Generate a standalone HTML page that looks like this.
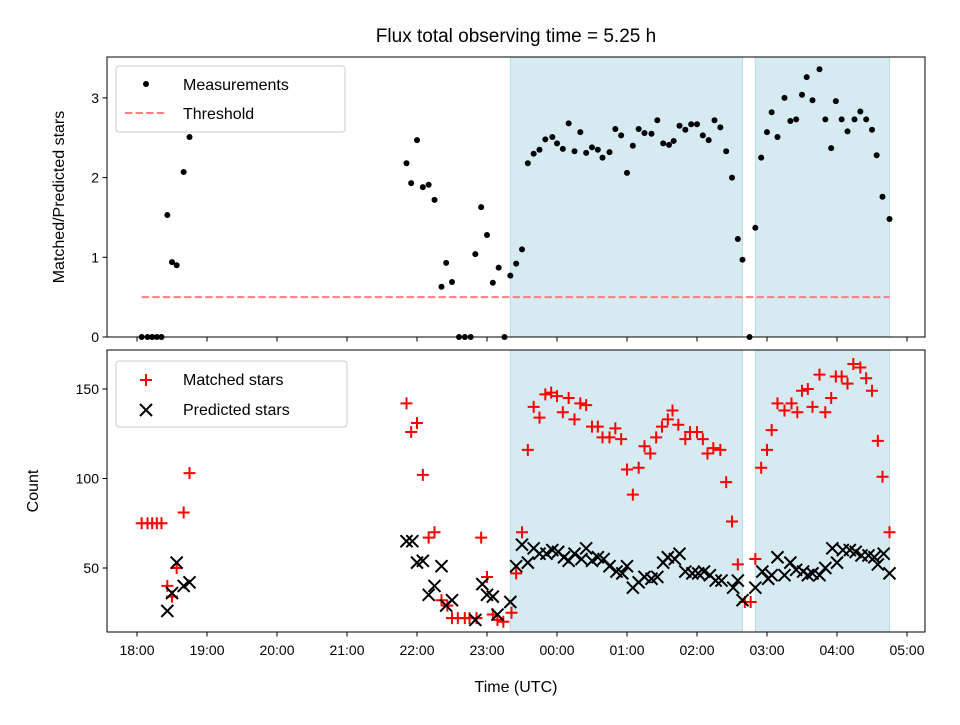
<!DOCTYPE html>
<html><head><meta charset="utf-8"><style>
body{margin:0;background:#fff}
svg text{font-family:"Liberation Sans","DejaVu Sans",sans-serif;fill:#000}
</style></head><body>
<svg id="c" width="960" height="720" viewBox="0 0 960 720" xmlns="http://www.w3.org/2000/svg"></svg>
<script>
// minutes since 18:00 UTC
const measTimes=[4,9,13,17,21,26,30,34,40,45,231,235,240,245,250,255,261,265,270,276,281,286,290,295,300,305,310,315,320,325,330,335,340,345,350,356,360,365,370,375,380,385,390,395,399,405,410,415,420,425,430,435,441,446,451,456,460,465,470,475,480,485,490,495,500,505,510,515,519,525,530,535,540,544,549,555,560,565,570,574,579,585,590,595,599,604,609,615,620,625,630,634,639,645];
const measValues=[0,0,0,0,0,1.53,0.94,0.90,2.07,2.51,2.18,1.93,2.47,1.88,1.91,1.72,0.63,0.93,0.69,0,0,0,1.04,1.63,1.28,0.68,0.87,0,0.77,0.92,1.10,2.18,2.30,2.35,2.48,2.51,2.43,2.36,2.68,2.33,2.57,2.31,2.38,2.35,2.25,2.32,2.61,2.53,2.06,2.40,2.61,2.56,2.55,2.72,2.43,2.41,2.46,2.65,2.60,2.67,2.67,2.53,2.47,2.72,2.63,2.33,2.00,1.23,0.97,0,1.37,2.25,2.57,2.82,2.51,3.00,2.71,2.73,3.04,3.26,2.97,3.36,2.73,2.37,2.96,2.73,2.58,2.73,2.83,2.73,2.60,2.28,1.76,1.48];
const matchedTimes=[4,9,13,17,21,26,30,34,40,45,231,235,240,245,250,255,261,266,270,275,281,285,291,295,300,305,309,314,321,325,330,335,340,345,350,355,360,365,370,375,380,385,390,395,399,405,410,415,420,425,430,435,440,445,450,455,459,464,470,474,480,485,489,494,500,505,510,515,521,526,530,535,540,544,549,555,561,566,570,575,579,585,590,595,599,604,609,614,620,625,630,635,639,645];
const matchedValues=[75,75,75,75,75,40,34,50,81,103,142,126,131,102,67,70,32,29,22,22,22,22,22,67,45,24,21,20,25,47,70,116,140,134,147,148,146,137,145,133,142,141,129,129,123,123,128,122,105,91,106,118,114,123,129,133,138,130,122,126,126,122,114,117,116,98,76,52,31,31,55,106,116,127,142,138,142,137,149,150,140,158,137,145,157,157,153,164,162,156,149,121,101,70];
const predictedTimes=[26,30,34,40,45,231,236,240,245,250,255,261,265,270,290,296,300,305,309,320,325,330,335,340,345,351,356,361,366,370,375,381,385,390,395,400,405,411,416,420,425,430,435,441,446,451,455,461,465,470,476,481,486,491,496,501,511,515,519,530,536,541,544,549,555,560,565,571,575,579,585,590,596,600,605,611,616,621,627,632,635,640,645];
const predictedValues=[26,36,53,40,42,65,65,53,54,35,40,51,29,32,21,41,35,34,24,31,51,63,53,61,58,58,60,59,56,54,58,55,61,54,56,55,51,48,47,51,39,42,45,44,45,53,56,55,58,48,47,47,48,46,43,43,39,43,32,39,48,44,46,56,46,53,49,48,46,47,46,50,61,53,60,60,59,57,57,56,52,58,47];
const obsWindows=[[320,519],[530,645]];
const threshold=0.5, thrStart=4, thrEnd=645;
const xTickLabels=["18:00","19:00","20:00","21:00","22:00","23:00","00:00","01:00","02:00","03:00","04:00","05:00"];
const topYTicks=[0,1,2,3];
const botYTicks=[50,100,150];

const NS="http://www.w3.org/2000/svg";
const svg=document.getElementById('c');
function el(tag,attrs,parent){const e=document.createElementNS(NS,tag);for(const k in attrs)e.setAttribute(k,attrs[k]);(parent||svg).appendChild(e);return e;}
const L=107,R=925;
const X=m=>137+m*70/60;
const T={top:57,bot:337,y:v=>337-v*79.7};
const B={top:350,bot:632,y:v=>568-(v-50)*1.79};

function axes(P,name,yTicks,labels){
  const g=el('g',{});
  
  
  obsWindows.forEach(w=>{
    const r=el('rect',{x:X(w[0]),y:P.top,width:X(w[1])-X(w[0]),height:P.bot-P.top,fill:'#d5eaf1',stroke:'#b9dce8','stroke-width':1},g);
    
    
  });
  return g;
}
function frame(P,g,yTicks,labels){
  el('rect',{x:L,y:P.top,width:R-L,height:P.bot-P.top,fill:'none',stroke:'#000','stroke-width':1},g);
  xTickLabels.forEach((t,i)=>{
    const x=X(i*60);
    el('line',{x1:x,x2:x,y1:P.bot,y2:P.bot+4.5,stroke:'#000'},g);
    if(labels){const tx=el('text',{x:x,y:P.bot+23,'text-anchor':'middle','font-size':14},g);tx.textContent=t;
      }
  });
  yTicks.forEach(v=>{
    const y=P.y(v);
    el('line',{x1:L-4.5,x2:L,y1:y,y2:y,stroke:'#000'},g);
    const tx=el('text',{x:L-8,y:y+5,'text-anchor':'end','font-size':14},g);tx.textContent=v;
    
  });
}
// top panel
const gt=axes(T,'top-panel');
const thr=el('line',{x1:X(thrStart),x2:X(thrEnd),y1:T.y(threshold),y2:T.y(threshold),stroke:'#ff7f7f','stroke-width':2,'stroke-dasharray':'7.4,3.2'},gt);

measTimes.forEach((t,i)=>{
  const c=el('circle',{cx:X(t),cy:T.y(measValues[i]),r:3,fill:'#000'},gt);
  
});
frame(T,gt,topYTicks,false);
// bottom panel
const gb=axes(B,'bottom-panel');
function plus(x,y,g,s,c){const p=el('path',{d:`M${x-s} ${y}H${x+s}M${x} ${y-s}V${y+s}`,stroke:c,'stroke-width':2,fill:'none'},g);return p;}
function cross(x,y,g,s,c){return el('path',{d:`M${x-s} ${y-s}L${x+s} ${y+s}M${x-s} ${y+s}L${x+s} ${y-s}`,stroke:c,'stroke-width':2,fill:'none'},g);}
matchedTimes.forEach((t,i)=>{
  const p=plus(X(t),B.y(matchedValues[i]),gb,6,'#f00');
  
});
predictedTimes.forEach((t,i)=>{
  const p=cross(X(t),B.y(predictedValues[i]),gb,6,'#000');
  
});
frame(B,gb,botYTicks,true);

// legends
function legend(x,y,w,h,name){const r=el('rect',{x:x,y:y,width:w,height:h,rx:3,fill:'#fff','fill-opacity':0.8,stroke:'#ccc'});}
legend(116,66,229,66,'top-legend');
el('circle',{cx:146,cy:84,r:3,fill:'#000'});
el('line',{x1:125,x2:166,y1:113,y2:113,stroke:'#ff7f7f','stroke-width':2,'stroke-dasharray':'7.4,3.2'});
let t1=el('text',{x:183,y:90,'font-size':16});t1.textContent='Measurements';
let t2=el('text',{x:183,y:119,'font-size':16});t2.textContent='Threshold';
legend(116,361,231,66,'bottom-legend');
plus(146,380,svg,6,'#f00');
cross(146,410,svg,6,'#000');
let t3=el('text',{x:183,y:385,'font-size':16});t3.textContent='Matched stars';
let t4=el('text',{x:183,y:415,'font-size':16});t4.textContent='Predicted stars';

// titles
let ti=el('text',{x:516,y:42,'text-anchor':'middle','font-size':19});ti.textContent='Flux total observing time = 5.25 h';
let yl=el('text',{x:0,y:0,'text-anchor':'middle','font-size':16,transform:'translate(64,197) rotate(-90)'});yl.textContent='Matched/Predicted stars';
let yl2=el('text',{x:0,y:0,'text-anchor':'middle','font-size':16,transform:'translate(38,491) rotate(-90)'});yl2.textContent='Count';
let xl=el('text',{x:516,y:692,'text-anchor':'middle','font-size':16});xl.textContent='Time (UTC)';
</script>
</body></html>
